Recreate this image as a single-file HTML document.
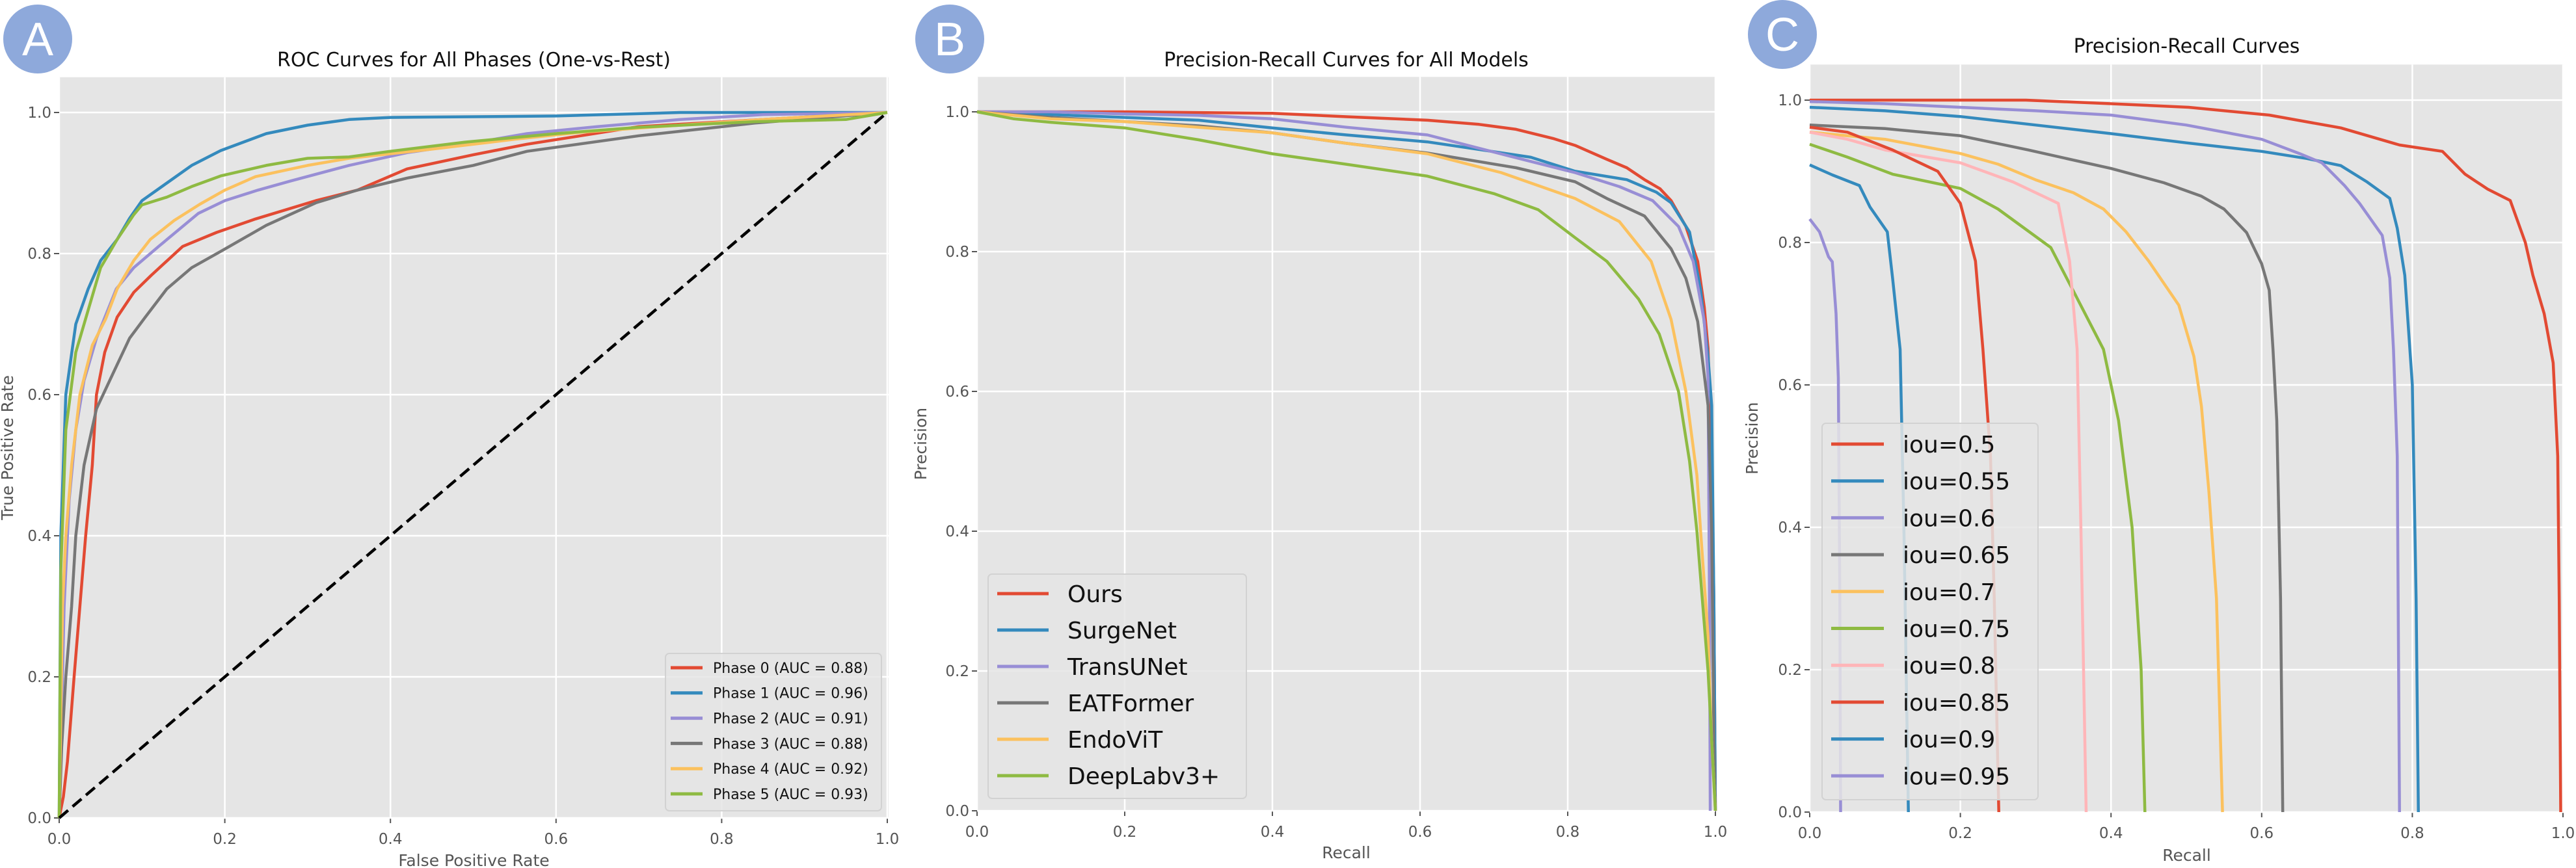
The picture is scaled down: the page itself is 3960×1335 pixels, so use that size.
<!DOCTYPE html>
<html><head><meta charset="utf-8">
<style>
html,body{margin:0;padding:0;background:#fff;}
svg{display:block;font-family:"DejaVu Sans","Liberation Sans",sans-serif;}
</style></head>
<body>
<svg id="fig" xmlns="http://www.w3.org/2000/svg" width="3960" height="1335" viewBox="0 0 3960 1335"></svg>
<script>
// ---------- Panel A data (ROC) ----------
const rocLabels = ["Phase 0 (AUC = 0.88)","Phase 1 (AUC = 0.96)","Phase 2 (AUC = 0.91)","Phase 3 (AUC = 0.88)","Phase 4 (AUC = 0.92)","Phase 5 (AUC = 0.93)"];
const roc0 = [[0,0],[0.005,0.03],[0.01,0.08],[0.018,0.2],[0.025,0.3],[0.032,0.4],[0.04,0.5],[0.045,0.6],[0.055,0.66],[0.07,0.71],[0.09,0.745],[0.111,0.769],[0.149,0.81],[0.19,0.83],[0.237,0.849],[0.31,0.875],[0.36,0.89],[0.42,0.92],[0.5,0.94],[0.565,0.955],[0.7,0.98],[0.85,0.99],[1,1]];
const roc1 = [[0,0],[0.002,0.4],[0.008,0.6],[0.02,0.7],[0.035,0.75],[0.05,0.79],[0.07,0.82],[0.085,0.85],[0.1,0.875],[0.13,0.9],[0.16,0.925],[0.195,0.946],[0.25,0.97],[0.3,0.982],[0.35,0.99],[0.4,0.993],[0.6,0.995],[0.75,1.0],[1,1]];
const roc2 = [[0,0],[0.006,0.3],[0.012,0.45],[0.02,0.55],[0.03,0.62],[0.045,0.68],[0.069,0.75],[0.09,0.78],[0.12,0.81],[0.168,0.857],[0.2,0.875],[0.24,0.89],[0.28,0.903],[0.35,0.925],[0.42,0.943],[0.5,0.957],[0.565,0.97],[0.65,0.98],[0.75,0.99],[0.85,0.997],[1,1]];
const roc3 = [[0,0],[0.003,0.1],[0.008,0.2],[0.015,0.3],[0.02,0.4],[0.03,0.5],[0.045,0.58],[0.069,0.64],[0.085,0.68],[0.104,0.71],[0.13,0.75],[0.16,0.78],[0.195,0.803],[0.25,0.84],[0.31,0.872],[0.36,0.89],[0.42,0.907],[0.5,0.925],[0.565,0.945],[0.7,0.967],[0.84,0.985],[1,1]];
const roc4 = [[0,0],[0.004,0.3],[0.008,0.4],[0.015,0.5],[0.025,0.6],[0.04,0.67],[0.056,0.707],[0.07,0.75],[0.09,0.79],[0.11,0.82],[0.139,0.847],[0.17,0.87],[0.2,0.89],[0.237,0.909],[0.3,0.925],[0.35,0.935],[0.45,0.948],[0.55,0.962],[0.63,0.972],[0.75,0.982],[0.85,0.99],[1,1]];
const roc5 = [[0,0],[0.002,0.35],[0.008,0.55],[0.02,0.66],[0.035,0.72],[0.05,0.78],[0.07,0.82],[0.09,0.855],[0.1,0.869],[0.13,0.88],[0.16,0.895],[0.195,0.91],[0.25,0.925],[0.3,0.935],[0.35,0.937],[0.4,0.945],[0.49,0.958],[0.6,0.97],[0.7,0.979],[0.84,0.987],[0.95,0.99],[1,1]];
const rocDiag = [[0,0],[1,1]];

// ---------- Panel B data (PR models) ----------
const modelLabels = ["Ours","SurgeNet","TransUNet","EATFormer","EndoViT","DeepLabv3+"];
const prOurs = [[0,1],[0.2,1],[0.4,0.998],[0.5,0.993],[0.61,0.988],[0.68,0.982],[0.73,0.975],[0.78,0.962],[0.81,0.952],[0.853,0.932],[0.88,0.92],[0.904,0.903],[0.925,0.89],[0.94,0.873],[0.96,0.836],[0.976,0.786],[0.985,0.72],[0.99,0.662],[0.995,0.5],[0.998,0.3],[1.0,0.0]];
const prSurge = [[0,1],[0.2,0.992],[0.3,0.988],[0.4,0.977],[0.5,0.967],[0.61,0.957],[0.7,0.943],[0.75,0.935],[0.81,0.915],[0.88,0.903],[0.92,0.885],[0.94,0.87],[0.965,0.828],[0.98,0.745],[0.99,0.65],[0.995,0.58],[0.998,0.3],[1.0,0.0]];
const prTrans = [[0,1],[0.1,1.0],[0.2,0.997],[0.3,0.995],[0.4,0.99],[0.5,0.978],[0.61,0.967],[0.72,0.937],[0.81,0.913],[0.87,0.893],[0.915,0.873],[0.95,0.836],[0.97,0.786],[0.985,0.7],[0.99,0.62],[0.992,0.3],[0.993,0.0]];
const prEAT = [[0,1],[0.1,0.992],[0.2,0.986],[0.3,0.98],[0.4,0.97],[0.5,0.955],[0.61,0.941],[0.73,0.92],[0.81,0.9],[0.853,0.876],[0.904,0.851],[0.94,0.804],[0.96,0.762],[0.976,0.70],[0.99,0.58],[0.995,0.4],[0.998,0.1],[1,0]];
const prEndo = [[0,1],[0.1,0.99],[0.2,0.986],[0.3,0.978],[0.4,0.97],[0.5,0.955],[0.61,0.94],[0.71,0.913],[0.81,0.876],[0.87,0.843],[0.913,0.786],[0.94,0.703],[0.96,0.6],[0.975,0.48],[0.98,0.4],[0.99,0.25],[0.995,0.1],[1,0]];
const prDeep = [[0,1],[0.05,0.99],[0.1,0.985],[0.2,0.977],[0.3,0.96],[0.4,0.94],[0.5,0.925],[0.61,0.908],[0.7,0.883],[0.76,0.86],[0.81,0.82],[0.853,0.786],[0.896,0.732],[0.924,0.682],[0.95,0.6],[0.965,0.5],[0.975,0.4],[0.99,0.2],[1,0]];

// ---------- Panel C data (PR by IoU) ----------
const iouLabels = ["iou=0.5","iou=0.55","iou=0.6","iou=0.65","iou=0.7","iou=0.75","iou=0.8","iou=0.85","iou=0.9","iou=0.95"];
const iou50 = [[0,1],[0.287,1],[0.4,0.995],[0.503,0.99],[0.61,0.979],[0.705,0.961],[0.783,0.937],[0.84,0.928],[0.87,0.896],[0.9,0.875],[0.93,0.859],[0.95,0.8],[0.96,0.754],[0.975,0.7],[0.987,0.631],[0.993,0.5],[0.995,0.3],[0.997,0.0]];
const iou55 = [[0,0.99],[0.1,0.985],[0.2,0.977],[0.3,0.965],[0.4,0.953],[0.5,0.94],[0.6,0.928],[0.66,0.918],[0.705,0.908],[0.74,0.885],[0.77,0.862],[0.78,0.82],[0.79,0.754],[0.8,0.6],[0.805,0.3],[0.808,0.0]];
const iou60 = [[0,0.998],[0.1,0.995],[0.2,0.99],[0.3,0.985],[0.4,0.979],[0.5,0.965],[0.6,0.945],[0.65,0.925],[0.68,0.912],[0.71,0.88],[0.73,0.855],[0.76,0.81],[0.77,0.75],[0.775,0.65],[0.78,0.5],[0.783,0.0]];
const iou65 = [[0,0.965],[0.1,0.96],[0.2,0.95],[0.29,0.93],[0.4,0.904],[0.47,0.884],[0.52,0.865],[0.55,0.847],[0.58,0.814],[0.6,0.77],[0.61,0.733],[0.615,0.65],[0.62,0.55],[0.625,0.3],[0.628,0.0]];
const iou70 = [[0,0.955],[0.1,0.945],[0.2,0.925],[0.25,0.91],[0.3,0.888],[0.35,0.87],[0.39,0.847],[0.42,0.815],[0.45,0.774],[0.49,0.712],[0.51,0.64],[0.52,0.57],[0.53,0.45],[0.54,0.3],[0.548,0.0]];
const iou75 = [[0,0.938],[0.05,0.92],[0.11,0.896],[0.2,0.876],[0.25,0.847],[0.32,0.793],[0.35,0.732],[0.39,0.65],[0.41,0.55],[0.428,0.4],[0.44,0.2],[0.445,0.0]];
const iou80 = [[0,0.955],[0.05,0.945],[0.1,0.93],[0.2,0.912],[0.27,0.885],[0.33,0.855],[0.34,0.8],[0.345,0.774],[0.355,0.65],[0.36,0.4],[0.367,0.0]];
const iou85 = [[0,0.962],[0.05,0.955],[0.11,0.93],[0.17,0.9],[0.2,0.855],[0.22,0.774],[0.23,0.65],[0.24,0.5],[0.245,0.3],[0.251,0.0]];
const iou90 = [[0,0.909],[0.03,0.895],[0.066,0.88],[0.08,0.85],[0.103,0.815],[0.11,0.75],[0.12,0.65],[0.125,0.4],[0.131,0.0]];
const iou95 = [[0,0.833],[0.013,0.815],[0.025,0.78],[0.03,0.773],[0.035,0.7],[0.038,0.61],[0.04,0.3],[0.041,0.0]];

const xTicks = [0,0.2,0.4,0.6,0.8,1.0];
const yTicks = [0,0.2,0.4,0.6,0.8,1.0];
const tickText = ["0.0","0.2","0.4","0.6","0.8","1.0"];

const COLORS = ["#E24A33","#348ABD","#988ED5","#777777","#FBC15E","#8EBA42","#FFB5B8","#E24A33","#348ABD","#988ED5"];
const NS = "http://www.w3.org/2000/svg";
const svg = document.getElementById("fig");
function mk(tag, attrs, parent, text){
  const e = document.createElementNS(NS, tag);
  for (const k in attrs) e.setAttribute(k, attrs[k]);
  if (text !== undefined) e.textContent = text;
  (parent || svg).appendChild(e);
  return e;
}

function panel(cfg){
  const g = mk("g", {});
  
  
  const sx = v => cfg.x0 + v * (cfg.x1 - cfg.x0);
  const sy = v => cfg.yBot - v * (cfg.yBot - cfg.yOne);
  const axTop = sy(1.05);
  const bg = mk("rect", {x: cfg.x0, y: axTop, width: cfg.axRight - cfg.x0, height: cfg.yBot - axTop, fill: "#E5E5E5"}, g);
  
  
  // grid + ticks
  xTicks.forEach((t, i) => {
    const x = sx(t);
    const gl = mk("line", {x1: x, x2: x, y1: axTop, y2: cfg.yBot, stroke: "#fff", "stroke-width": 2.5}, g);
    
    
    mk("line", {x1: x, x2: x, y1: cfg.yBot, y2: cfg.yBot + 8, stroke: "#555", "stroke-width": 2}, g);
    const tl = mk("text", {x: x, y: cfg.yBot + 40, "text-anchor": "middle", "font-size": 23, fill: "#555"}, g, tickText[i]);
    
    
  });
  yTicks.forEach((t, i) => {
    const y = sy(t);
    const gl = mk("line", {x1: cfg.x0, x2: cfg.axRight, y1: y, y2: y, stroke: "#fff", "stroke-width": 2.5}, g);
    
    
    mk("line", {x1: cfg.x0 - 8, x2: cfg.x0, y1: y, y2: y, stroke: "#555", "stroke-width": 2}, g);
    const tl = mk("text", {x: cfg.x0 - 12, y: y + 8, "text-anchor": "end", "font-size": 23, fill: "#555"}, g, tickText[i]);
    
    
  });
  // clip
  const cid = cfg.name + "-clip";
  const cp = mk("clipPath", {id: cid}, g);
  mk("rect", {x: cfg.x0 - 3, y: axTop, width: cfg.axRight - cfg.x0 + 6, height: cfg.yBot - axTop + 3}, cp);
  const lines = mk("g", {"clip-path": "url(#" + cid + ")"}, g);
  cfg.series.forEach((s, i) => {
    const d = s.map((p, j) => (j ? "L" : "M") + sx(p[0]).toFixed(1) + "," + sy(p[1]).toFixed(1)).join("");
    const pth = mk("path", {d: d, fill: "none", stroke: COLORS[i], "stroke-width": 4.5, "stroke-linejoin": "round"}, lines);
    
    
  });
  if (cfg.diag){
    const d = cfg.diag.map((p, j) => (j ? "L" : "M") + sx(p[0]) + "," + sy(p[1])).join("");
    const dp = mk("path", {d: d, fill: "none", stroke: "#000", "stroke-width": 4.5, "stroke-dasharray": "18,9"}, lines);
    
    
  }
  // title and labels
  const tt = mk("text", {x: (cfg.x0 + cfg.axRight) / 2, y: cfg.titleY + 10, "text-anchor": "middle", "font-size": 30, fill: "#111"}, g, cfg.title);
  
  
  const xl = mk("text", {x: (cfg.x0 + cfg.axRight) / 2, y: cfg.xlabY + 9, "text-anchor": "middle", "font-size": 25, fill: "#555"}, g, cfg.xlab);
  
  
  const yc = (axTop + cfg.yBot) / 2;
  const yl = mk("text", {x: cfg.ylabX, y: yc, "text-anchor": "middle", "font-size": 25, fill: "#555", transform: "rotate(-90 " + cfg.ylabX + " " + yc + ")"}, g, cfg.ylab);
  
  
  // legend
  const L = cfg.legend;
  const lg = mk("g", {}, g);
  
  
  mk("rect", {x: L.x, y: L.y, width: L.w, height: L.h, rx: 6, fill: "#E5E5E5", "fill-opacity": 0.85, stroke: "#d2d2d2", "stroke-width": 2}, lg);
  cfg.labels.forEach((lab, i) => {
    const y = L.first + i * L.step;
    const e = mk("g", {}, lg);
    
    
    mk("line", {x1: L.hx1, x2: L.hx2, y1: y, y2: y, stroke: COLORS[i], "stroke-width": 5}, e);
    mk("text", {x: L.tx, y: y + L.fs * 0.36, "font-size": L.fs, fill: "#111"}, e, lab);
  });
}

panel({name: "roc-panel", x0: 91, x1: 1364, axRight: 1366, yBot: 1258, yOne: 173,
  series: [roc0, roc1, roc2, roc3, roc4, roc5], diag: rocDiag, labels: rocLabels,
  title: "ROC Curves for All Phases (One-vs-Rest)", titleY: 92, xlab: "False Positive Rate", xlabY: 1323,
  ylab: "True Positive Rate", ylabX: 20,
  legend: {x: 1023, y: 1005, w: 332, h: 242, first: 1027, step: 38.8, hx1: 1031, hx2: 1080, tx: 1096, fs: 22}});

panel({name: "pr-models-panel", x0: 1502, x1: 2637, axRight: 2637, yBot: 1247, yOne: 172,
  series: [prOurs, prSurge, prTrans, prEAT, prEndo, prDeep], labels: modelLabels,
  title: "Precision-Recall Curves for All Models", titleY: 92, xlab: "Recall", xlabY: 1311,
  ylab: "Precision", ylabX: 1424,
  legend: {x: 1519, y: 883, w: 397, h: 345, first: 913, step: 56, hx1: 1533, hx2: 1612, tx: 1641, fs: 36}});

panel({name: "pr-iou-panel", x0: 2782, x1: 3940, axRight: 3941, yBot: 1249, yOne: 154,
  series: [iou50, iou55, iou60, iou65, iou70, iou75, iou80, iou85, iou90, iou95], labels: iouLabels,
  title: "Precision-Recall Curves", titleY: 71, xlab: "Recall", xlabY: 1315,
  ylab: "Precision", ylabX: 2702,
  legend: {x: 2801, y: 651, w: 332, h: 579, first: 683, step: 56.7, hx1: 2815, hx2: 2896, tx: 2925, fs: 36}});

// panel badges
[["A", 58, 60], ["B", 1460, 60], ["C", 2740, 53]].forEach(b => {
  const g = mk("g", {});
  
  
  mk("circle", {cx: b[1], cy: b[2], r: 53, fill: "#8EA9DB"}, g);
  mk("text", {x: b[1], y: b[2] + 25, "text-anchor": "middle", "font-size": 72, fill: "#fff", "font-family": "Liberation Sans, sans-serif"}, g, b[0]);
});
</script>
</body></html>
